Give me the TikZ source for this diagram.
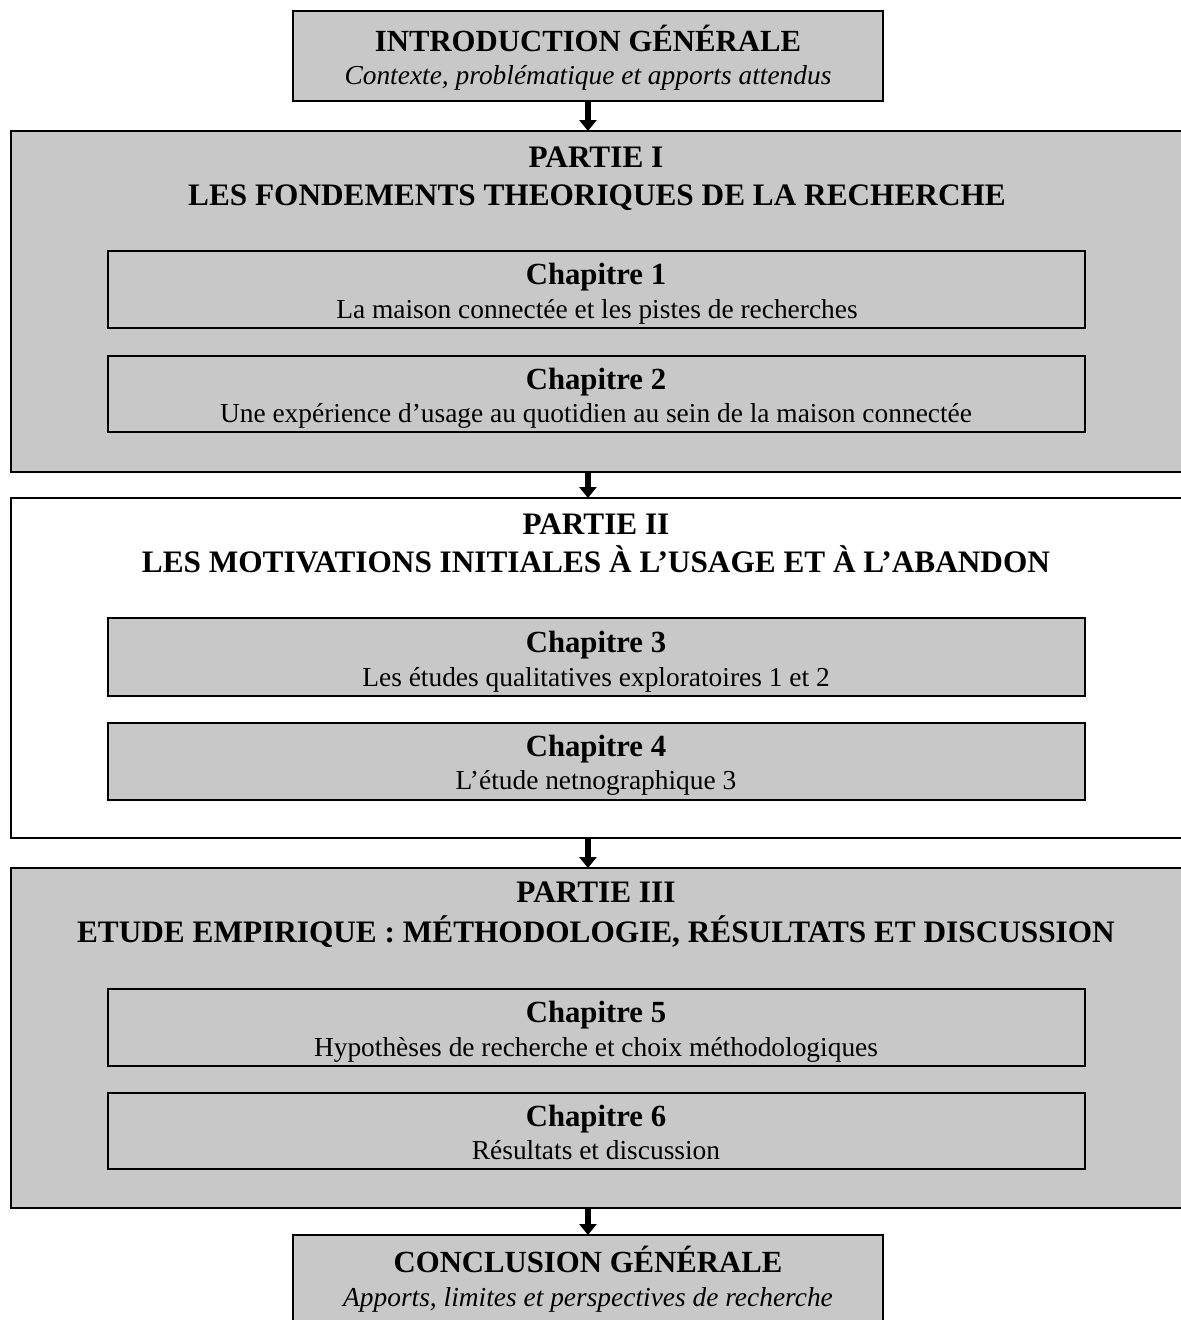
\documentclass[tikz,border=0pt]{standalone}
\usepackage{fontspec}
\setmainfont{Liberation Serif}
\usetikzlibrary{arrows.meta}
\definecolor{boxgray}{RGB}{200,200,200}
\begin{document}
\begin{tikzpicture}[x=0.02cm,y=-0.02cm,
  frame/.style={draw=black, line width=1.1pt, inner sep=0pt, outer sep=0pt, anchor=north west},
  shaded/.style={frame, fill=boxgray},
  plain/.style={frame, fill=white},
  headtxt/.style={anchor=base, inner sep=0pt, font=\bfseries\fontsize{17.5}{20}\selectfont},
  parttxt/.style={anchor=base, inner sep=0pt, font=\bfseries\fontsize{17.8}{20}\selectfont},
  subtxt/.style={anchor=base, inner sep=0pt, font=\fontsize{15.6}{18}\selectfont},
  itxt/.style={anchor=base, inner sep=0pt, font=\itshape\fontsize{15.6}{18}\selectfont},
  flow/.style={line width=0.12cm, -{Triangle[width=0.34cm,length=0.22cm]}}
]
\useasboundingbox (0,0) rectangle (1181,1320);

% Introduction
\node[shaded, minimum width=11.8cm, minimum height=1.8cm] (intro) at (293,11) {};
\node[headtxt] (introT) at (588,51) {INTRODUCTION GÉNÉRALE};
\node[itxt] (introS) at (588,84) {Contexte, problématique et apports attendus};

% Partie I
\node[shaded, minimum width=23.8cm, minimum height=6.82cm] (p1) at (11,131) {};
\node[parttxt] (p1a) at (596,167) {PARTIE I};
\node[parttxt] (p1b) at (597,205) {LES FONDEMENTS THEORIQUES DE LA RECHERCHE};
\node[shaded, minimum width=19.54cm, minimum height=1.54cm] (c1) at (108,251) {};
\node[headtxt] (c1a) at (596,284) {Chapitre 1};
\node[subtxt] (c1b) at (597,318) {La maison connectée et les pistes de recherches};
\node[shaded, minimum width=19.54cm, minimum height=1.52cm] (c2) at (108,356) {};
\node[headtxt] (c2a) at (596,389) {Chapitre 2};
\node[subtxt] (c2b) at (596,422) {Une expérience d’usage au quotidien au sein de la maison connectée};

% Partie II
\node[plain, minimum width=23.8cm, minimum height=6.8cm] (p2) at (11,498) {};
\node[parttxt] (p2a) at (596,534) {PARTIE II};
\node[parttxt] (p2b) at (596,572) {LES MOTIVATIONS INITIALES À L’USAGE ET À L’ABANDON};
\node[shaded, minimum width=19.54cm, minimum height=1.56cm] (c3) at (108,618) {};
\node[headtxt] (c3a) at (596,652) {Chapitre 3};
\node[subtxt] (c3b) at (596,686) {Les études qualitatives exploratoires 1 et 2};
\node[shaded, minimum width=19.54cm, minimum height=1.54cm] (c4) at (108,723) {};
\node[headtxt] (c4a) at (596,756) {Chapitre 4};
\node[subtxt] (c4b) at (596,789) {L’étude netnographique 3};

% Partie III
\node[shaded, minimum width=23.8cm, minimum height=6.8cm] (p3) at (11,868) {};
\node[parttxt] (p3a) at (596,902) {PARTIE III};
\node[parttxt] (p3b) at (596,942) {ETUDE EMPIRIQUE : MÉTHODOLOGIE, RÉSULTATS ET DISCUSSION};
\node[shaded, minimum width=19.54cm, minimum height=1.54cm] (c5) at (108,989) {};
\node[headtxt] (c5a) at (596,1022) {Chapitre 5};
\node[subtxt] (c5b) at (596,1056) {Hypothèses de recherche et choix méthodologiques};
\node[shaded, minimum width=19.54cm, minimum height=1.52cm] (c6) at (108,1093) {};
\node[headtxt] (c6a) at (596,1126) {Chapitre 6};
\node[subtxt] (c6b) at (596,1159) {Résultats et discussion};

% Conclusion
\node[shaded, minimum width=11.8cm, minimum height=2.0cm] (concl) at (293,1235) {};
\node[headtxt] (conclT) at (588,1272) {CONCLUSION GÉNÉRALE};
\node[itxt] (conclS) at (588,1306) {Apports, limites et perspectives de recherche};

% Arrows between the stages
\draw[flow] (intro.south) -- (intro.south |- p1.north);
\draw[flow] (intro.south |- p1.south) -- (intro.south |- p2.north);
\draw[flow] (intro.south |- p2.south) -- (intro.south |- p3.north);
\draw[flow] (intro.south |- p3.south) -- (concl.north);
\end{tikzpicture}
\end{document}
